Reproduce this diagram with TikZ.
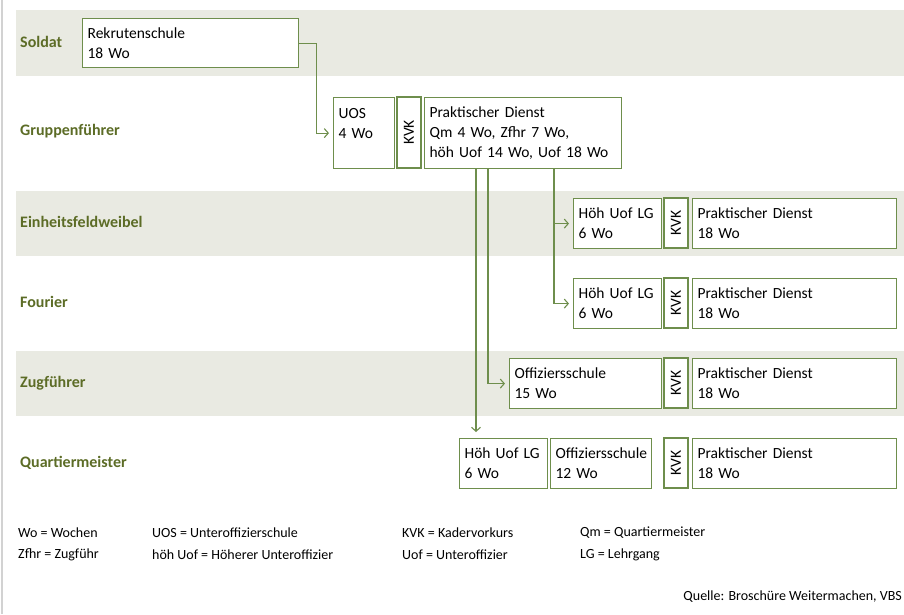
\documentclass[tikz,border=0pt]{standalone}
\usepackage{fontspec}
\setmainfont{Carlito}
\usepackage{tikz}
\usetikzlibrary{arrows.meta,positioning}
\definecolor{bandgray}{HTML}{E9EAE2}
\definecolor{lblgreen}{HTML}{5C6C26}
\definecolor{boxgreen}{HTML}{6E8E4C}
\tikzset{box/.style={draw=boxgreen,fill=white,line width=1.2pt,anchor=north west,align=left,inner xsep=5pt,inner ysep=2pt,font=\fontsize{15.5}{20}\selectfont}}
\tikzset{kvk/.style={draw=boxgreen,fill=white,line width=1.2pt,rotate=90,inner sep=0pt,minimum height=24pt,font=\fontsize{15.5}{20}\selectfont}}
\tikzset{flow/.style={->,draw=boxgreen,line width=1.1pt,shorten >=4pt}}
\tikzstyle{rank}=[anchor=west,inner sep=0pt,text=lblgreen,font=\fontsize{16}{20}\selectfont\bfseries]
\tikzstyle{legend}=[anchor=west,inner sep=0pt,font=\fontsize{14}{17}\selectfont]

\begin{document}
\begin{tikzpicture}[x=1pt,y=-1pt,>={Straight Barb[length=4pt,width=9pt]}]
    \useasboundingbox (0,0) rectangle (904,614);
    \draw[gray!35,line width=2pt] (2,0) -- (2,614);
    \fill[bandgray] (16,10) rectangle (904,76);
    \fill[bandgray] (16,191) rectangle (904,256);
    \fill[bandgray] (16,351) rectangle (904,416);

    \node[rank] (r1) at (20,42) {Soldat};
    \node[rank] (r2) at (20,131) {Gruppenführer};
    \node[rank] (r3) at (20,222) {Einheitsfeldweibel};
    \node[rank] (r4) at (20,302) {Fourier};
    \node[rank] (r5) at (20,383) {Zugführer};
    \node[rank] (r6) at (20,463) {Quartiermeister};

    \node[box,text width=206pt,minimum height=49pt] (rs) at (82,18) {Rekrutenschule\\18 Wo};
    \node[box,text width=51pt,minimum height=71pt] (uos) at (333,97) {UOS\\4 Wo\\\mbox{}};
    \node[kvk,minimum width=71pt] (kvk1) at (409,132.5) {KVK};
    \node[box,text width=187pt,minimum height=71pt] (pd1) at (424,97) {Praktischer Dienst\\Qm 4 Wo, Zfhr 7 Wo,\\höh Uof 14 Wo, Uof 18 Wo};

    \node[box,text width=78pt,minimum height=50pt] (hu1) at (573,198) {Höh Uof LG\\6 Wo};
    \node[kvk,minimum width=50pt] (kvk2) at (676,223) {KVK};
    \node[box,text width=194pt,minimum height=50pt] (pd2) at (692,198) {Praktischer Dienst\\18 Wo};

    \node[box,text width=78pt,minimum height=50pt,below=28.8pt of hu1] (hu2) {Höh Uof LG\\6 Wo};
    \node[kvk,minimum width=50pt] (kvk3) at (676,303) {KVK};
    \node[box,text width=194pt,minimum height=50pt,below=28.8pt of pd2] (pd3) {Praktischer Dienst\\18 Wo};

    \node[box,text width=142pt,minimum height=50pt] (os1) at (509,358) {Offiziersschule\\15 Wo};
    \node[kvk,minimum width=50pt] (kvk4) at (676,383) {KVK};
    \node[box,text width=194pt,minimum height=50pt,below=28.8pt of pd3] (pd4) {Praktischer Dienst\\18 Wo};

    \node[box,text width=78pt,minimum height=50pt] (hu3) at (459,438) {Höh Uof LG\\6 Wo};
    \node[box,text width=91pt,minimum height=50pt,right=1.8pt of hu3] (os2) {Offiziersschule\\12 Wo};
    \node[kvk,minimum width=50pt] (kvk5) at (676,463) {KVK};
    \node[box,text width=194pt,minimum height=50pt,below=28.8pt of pd4] (pd5) {Praktischer Dienst\\18 Wo};

    \coordinate (ta) at (554,0);
    \coordinate (tb) at (488,0);
    \coordinate (tc) at (476,0);
    \draw[flow] (rs.east) -- ++(17,0) |- (uos.west);
    \draw[flow] (pd1.south -| ta) |- (hu1.west);
    \draw[flow] (pd1.south -| ta) |- (hu2.west);
    \draw[flow] (pd1.south -| tb) |- (os1.west);
    \draw[flow,shorten >=6pt] (pd1.south -| tc) -- (hu3.north -| tc);

    \node[legend] (l1) at (18,533) {Wo = Wochen};
    \node[legend] (l2) at (18,555) {Zfhr = Zugführ};
    \node[legend] (l3) at (152,533) {UOS = Unteroffizierschule};
    \node[legend] (l4) at (152,555) {höh Uof = Höherer Unteroffizier};
    \node[legend] (l5) at (402,533) {KVK = Kadervorkurs};
    \node[legend] (l6) at (402,555) {Uof = Unteroffizier};
    \node[legend] (l7) at (580,533) {Qm = Quartiermeister};
    \node[legend] (l8) at (580,555) {LG = Lehrgang};
    \node[legend,anchor=east] (q) at (902,597) {Quelle: Broschüre Weitermachen, VBS};
\end{tikzpicture}
\end{document}
